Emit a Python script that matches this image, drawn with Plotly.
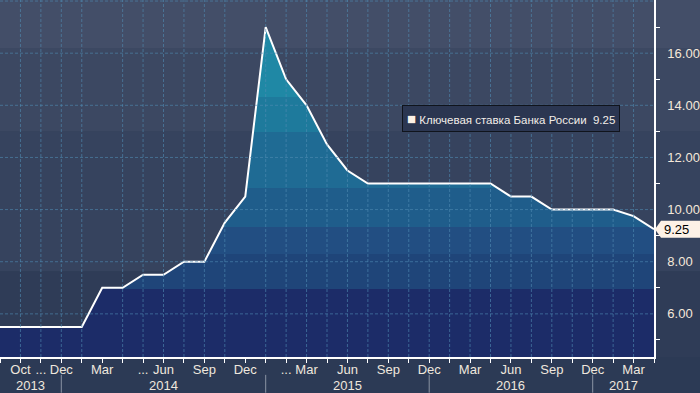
import plotly.graph_objects as go

# ---------------- data ----------------
series_name = "Ключевая ставка Банка России"
obs_index = list(range(33))
values = [5.5, 5.5, 5.5, 5.5, 5.5, 7.0, 7.0, 7.5, 7.5, 8.0, 8.0, 9.5, 10.5, 17.0,
          15.0, 14.0, 12.5, 11.5, 11.0, 11.0, 11.0, 11.0, 11.0, 11.0, 11.0,
          10.5, 10.5, 10.0, 10.0, 10.0, 10.0, 9.75, 9.25]

month_pos = [1, 2, 3, 5, 7, 8, 10, 12, 14, 15, 17, 19, 21, 23, 25, 27, 29, 31]
month_labels = ["Oct", "...", "Dec", "Mar", "...", "Jun", "Sep", "Dec", "...", "Mar",
                "Jun", "Sep", "Dec", "Mar", "Jun", "Sep", "Dec", "Mar"]
year_labels = ["2013", "2014", "2015", "2016", "2017"]
year_centers = [1.5, 8, 17, 25, 30.5]
year_breaks = [3, 13, 21, 29]

y_tickvals = [6, 8, 10, 12, 14, 16]
y_marks = [6, 8, 10, 12, 14, 16, 18]
v_grid = [1, 2, 3, 4, 6, 7, 8, 9, 10, 11, 13, 14, 15, 16, 17, 18, 19, 20, 21, 22,
          23, 24, 25, 26, 27, 28, 29, 30, 31]
h_grid = [6, 8, 10, 12, 14, 16, 18]

# ---------------- styling ----------------
Y_MIN, Y_MAX = 4.345, 18.04
X_MIN, X_MAX = 0, 32
FONT = "Liberation Sans"
TXT = "#efe7de"

fill_bounds = [Y_MIN, 6.94, 8.28, 9.35, 10.84, 12.98, 14.32, Y_MAX]
fill_colors = ["#1c2c68", "#1f4579", "#224e82", "#1f5d8b", "#1f6b94", "#1e7a9c", "#1f88a5"]
colorscale = []
for i, c in enumerate(fill_colors):
    t0 = (fill_bounds[i] - Y_MIN) / (Y_MAX - Y_MIN)
    t1 = (fill_bounds[i + 1] - Y_MIN) / (Y_MAX - Y_MIN)
    colorscale.append([t0, c])
    colorscale.append([t1, c])

bg_bounds = [Y_MIN - 1, 7.63, 13.0, 16.2, Y_MAX + 1]
bg_colors = ["#2f3c57", "#36435e", "#3c4862", "#434e68"]

fig = go.Figure()

fig.add_trace(go.Scatter(
    x=obs_index, y=values, mode="lines",
    line=dict(color="#ffffff", width=2),
    fill="tozeroy",
    fillgradient=dict(type="vertical", colorscale=colorscale, start=Y_MIN, stop=Y_MAX),
    showlegend=False, hoverinfo="skip",
))

# axis arrow marks on the right
fig.add_trace(go.Scatter(
    x=[X_MAX + 0.27] * len(y_marks), y=y_marks, mode="markers",
    marker=dict(symbol="triangle-right", size=8, color="#ffffff"),
    cliponaxis=False, showlegend=False, hoverinfo="skip",
))

shapes = []
for i, c in enumerate(bg_colors):
    shapes.append(dict(type="rect", xref="paper", yref="y", x0=0, x1=1.08,
                       y0=bg_bounds[i], y1=bg_bounds[i + 1], fillcolor=c,
                       line=dict(width=0), layer="below"))
grid_line = dict(color="rgba(80,140,180,0.6)", width=1, dash="3px,2px")
for gx in v_grid:
    shapes.append(dict(type="line", xref="x", yref="y", x0=gx, x1=gx,
                       y0=Y_MIN, y1=Y_MAX, line=grid_line, layer="above"))
for gy in h_grid:
    shapes.append(dict(type="line", xref="x", yref="y", x0=X_MIN, x1=X_MAX,
                       y0=gy, y1=gy, line=grid_line, layer="above"))
for yb in year_breaks:
    shapes.append(dict(type="line", xref="x", yref="paper", x0=yb, x1=yb,
                       y0=-0.05, y1=-0.10, line=dict(color="#8a93a3", width=1)))
# last value tag
shapes.append(dict(type="path", xref="paper", yref="y", xsizemode="pixel", ysizemode="pixel",
                   xanchor=1, yanchor=values[-1],
                   path="M1,0 L7,8.5 L60,8.5 L60,-8.5 L7,-8.5 Z",
                   fillcolor="#fdf1e6", line=dict(width=0), layer="above"))

annotations = []
for lab, cx in zip(year_labels, year_centers):
    annotations.append(dict(x=cx, y=-0.08, xref="x", yref="paper", text=lab,
                            showarrow=False, yanchor="middle",
                            font=dict(family=FONT, size=13, color=TXT)))
annotations.append(dict(x=1, y=values[-1], xref="paper", yref="y", xanchor="left",
                        xshift=8, text=f"{values[-1]:.2f}", showarrow=False,
                        font=dict(family=FONT, size=13, color="#000000")))
annotations.append(dict(
    x=0.6147, y=0.706, xref="paper", yref="paper", xanchor="left", yanchor="top",
    text=(f"<span style='color:#fdf1e6;font-size:15px'>■</span>&nbsp;{series_name}"
          f"&nbsp;&nbsp;{values[-1]:.2f}"),
    showarrow=False, align="left",
    bgcolor="#2b3651", bordercolor="#10141c", borderwidth=1, borderpad=4,
    font=dict(family=FONT, size=11.5, color="#f2ede8"),
))

fig.update_layout(
    width=700, height=393,
    margin=dict(l=0, r=46, t=0, b=36, autoexpand=False),
    paper_bgcolor="#2c3a55", plot_bgcolor="rgba(0,0,0,0)",
    shapes=shapes, annotations=annotations,
    xaxis=dict(range=[X_MIN, X_MAX], showgrid=False, zeroline=False, automargin=False,
               showline=True, linecolor="#ffffff", linewidth=1.5,
               ticks="", tickvals=month_pos, ticktext=month_labels,
               tickfont=dict(family=FONT, size=13, color=TXT),
               minor=dict(tickmode="linear", tick0=0, dtick=1, ticks="outside",
                          ticklen=4, tickcolor="#ffffff", showgrid=False)),
    yaxis=dict(range=[Y_MIN, Y_MAX], side="right", showgrid=False, zeroline=False,
               automargin=False,
               showline=True, linecolor="#ffffff", linewidth=1.5,
               tickvals=y_tickvals, ticktext=[f"{v:.2f}" for v in y_tickvals],
               ticks="outside", ticklen=9, tickcolor="rgba(0,0,0,0)",
               tickfont=dict(family=FONT, size=13, color="#f5e8da"),
               minor=dict(tickmode="linear", tick0=1, dtick=2, ticks="outside",
                          ticklen=4, tickcolor="#ffffff", showgrid=False)),
)

fig.write_html("out.html", config={"displayModeBar": False},
               post_script="document.body.style.margin='0';document.body.style.padding='0';")
